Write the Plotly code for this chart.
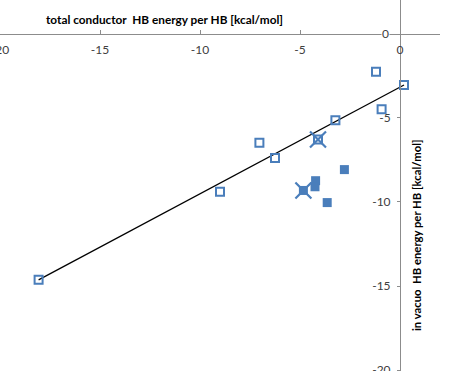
import plotly.graph_objects as go

# Data
open_x = [-18.07, -9.0, -7.03, -6.25, -3.23, -0.92, -1.2, 0.2]
open_y = [-14.63, -9.39, -6.48, -7.39, -5.15, -4.5, -2.27, -3.05]
open_cross_x = [-4.1]
open_cross_y = [-6.29]
filled_x = [-2.78, -4.22, -4.25, -3.64]
filled_y = [-8.08, -8.74, -9.1, -10.04]
filled_cross_x = [-4.83]
filled_cross_y = [-9.32]
trend_x = [-18.07, 0.2]
trend_y = [-14.63, -3.05]
tick_vals = [-20, -15, -10, -5, 0]
tick_text = ["-20", "-15", "-10", "-5", "0"]

blue = "#4A7EBB"
axis_gray = "#8C8C8C"
label_color = "#404040"

fig = go.Figure()
fig.add_trace(go.Scatter(x=trend_x, y=trend_y, mode="lines",
                         line=dict(color="black", width=1.3), showlegend=False))
fig.add_trace(go.Scatter(x=open_x + open_cross_x, y=open_y + open_cross_y, mode="markers",
                         marker=dict(symbol="square-open", size=8, color=blue,
                                     line=dict(width=2, color=blue)),
                         showlegend=False))
fig.add_trace(go.Scatter(x=filled_x + filled_cross_x, y=filled_y + filled_cross_y, mode="markers",
                         marker=dict(symbol="square", size=9, color=blue,
                                     line=dict(width=0)),
                         showlegend=False))
fig.add_trace(go.Scatter(x=open_cross_x + filled_cross_x, y=open_cross_y + filled_cross_y,
                         mode="markers",
                         marker=dict(symbol="x-thin", size=16, color=blue,
                                     line=dict(width=2.2, color=blue)),
                         showlegend=False))

fig.update_layout(
    width=474, height=371,
    margin=dict(l=0, r=34, t=0, b=0, autoexpand=False),
    paper_bgcolor="white", plot_bgcolor="white",
    font=dict(family="Lato, Liberation Sans, sans-serif", size=12, color=label_color),
    xaxis=dict(range=[-20, 2], tickvals=tick_vals, ticktext=tick_text,
               anchor="free", position=20 / 22, side="bottom",
               ticks="inside", ticklen=4, tickcolor=axis_gray,
               showline=True, linecolor=axis_gray, linewidth=1,
               showgrid=False, zeroline=False, ticklabelstandoff=5,
               ticklabeloverflow="allow", automargin=False),
    yaxis=dict(range=[-20.05, 2], tickvals=tick_vals[:-1], ticktext=tick_text[:-1],
               anchor="free", position=20 / 22, side="left",
               ticks="outside", ticklen=3, tickcolor=axis_gray,
               showline=True, linecolor=axis_gray, linewidth=1,
               showgrid=False, zeroline=False, ticklabelstandoff=4,
               ticklabeloverflow="allow", automargin=False),
    annotations=[
        dict(text="<b>total conductor  HB energy per HB [kcal/mol]</b>",
             xref="paper", yref="paper", x=164 / 440, y=(371 - 19.5) / 371,
             xanchor="center", yanchor="middle",
             showarrow=False, font=dict(size=11.8, color="black")),
        dict(text="<b>in vacuo  HB energy per HB [kcal/mol]</b>",
             xref="paper", yref="paper", x=416 / 440, y=(371 - 235) / 371,
             xanchor="center", yanchor="middle",
             showarrow=False, textangle=-90, font=dict(size=11.3, color="black")),
        # y-axis "0" tick label, drawn over the crossing x-axis line
        dict(text=tick_text[-1], x=tick_vals[-1], y=tick_vals[-1], xref="x", yref="y",
             xanchor="right", yanchor="middle", xshift=-10, showarrow=False,
             bgcolor="white", borderpad=0,
             font=dict(size=12, color=label_color)),
    ],
)

fig.write_html("out.html",
               config={"displayModeBar": False},
               post_script="document.body.style.margin='0px';document.body.style.padding='0px';")
